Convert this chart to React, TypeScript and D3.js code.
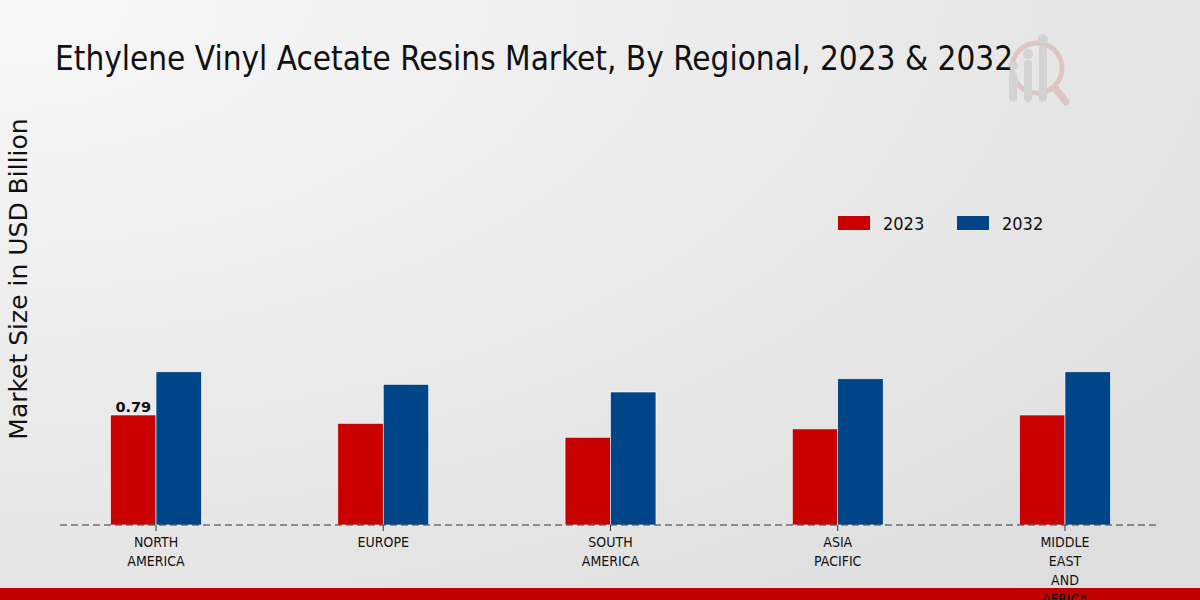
import React, { useEffect, useRef } from 'react';
import * as d3 from 'd3';

const regions = ['NORTH AMERICA', 'EUROPE', 'SOUTH AMERICA', 'ASIA PACIFIC', 'MIDDLE EAST AND AFRICA'];
const regionLines = [['NORTH', 'AMERICA'], ['EUROPE'], ['SOUTH', 'AMERICA'], ['ASIA', 'PACIFIC'], ['MIDDLE', 'EAST', 'AND', 'AFRICA']];
const years = ['2023', '2032'];
const values2023 = [0.79, 0.73, 0.63, 0.69, 0.79];
const values2032 = [1.10, 1.01, 0.955, 1.05, 1.10];
const colors = ['#c80000', '#004587'];

const App: React.FC = () => {
  const svgRef = useRef<SVGSVGElement | null>(null);

  useEffect(() => {
    if (!svgRef.current) return;
    const svg = d3.select(svgRef.current);
    svg.selectAll('*').remove();

    const width = 1200;
    const height = 600;
    const baseY = 525;

    // background gradient
    const defs = svg.append('defs');
    const grad = defs.append('radialGradient')
      .attr('id', 'bg')
      .attr('cx', '0%').attr('cy', '0%').attr('r', '130%');
    grad.append('stop').attr('offset', '0%').attr('stop-color', '#f8f8f8');
    grad.append('stop').attr('offset', '100%').attr('stop-color', '#dedede');
    svg.append('rect').attr('width', width).attr('height', height).attr('fill', 'url(#bg)');

    // bottom band
    svg.append('rect').attr('x', 0).attr('y', 588).attr('width', width).attr('height', 12).attr('fill', '#c00000');

    const x = d3.scaleBand<string>()
      .domain(regions)
      .range([42.4, 1178.6])
      .padding(0);

    const y = d3.scaleLinear()
      .domain([0, 2.7])
      .range([baseY, 149]);

    const barW = x.bandwidth() * 0.2;

    const series = [values2023, values2032];
    series.forEach((vals, si) => {
      svg.append('g')
        .selectAll('rect')
        .data(vals)
        .join('rect')
          .attr('x', (_, i) => (x(regions[i]) as number) + x.bandwidth() / 2 - barW + si * barW)
          .attr('y', d => y(d))
          .attr('width', barW)
          .attr('height', d => baseY - y(d))
          .attr('fill', colors[si])
          .attr('stroke', '#ffffff')
          .attr('stroke-width', 0.6);
    });

    // value label
    svg.append('text')
      .attr('x', (x(regions[0]) as number) + x.bandwidth() / 2 - barW / 2)
      .attr('y', y(values2023[0]) - 3)
      .attr('text-anchor', 'middle')
      .attr('font-family', 'DejaVu Sans')
      .attr('font-weight', 'bold')
      .attr('font-size', '14.5px')
      .attr('fill', '#111')
      .text(values2023[0].toFixed(2));

    // dashed baseline
    svg.append('line')
      .attr('x1', 60).attr('x2', 1160)
      .attr('y1', baseY).attr('y2', baseY)
      .attr('stroke', '#333')
      .attr('stroke-width', 1)
      .attr('stroke-dasharray', '7,4');

    // ticks and labels
    const ticks = svg.append('g');
    regions.forEach((r, i) => {
      const cx = (x(r) as number) + x.bandwidth() / 2;
      ticks.append('line')
        .attr('x1', cx).attr('x2', cx)
        .attr('y1', baseY).attr('y2', baseY + 6)
        .attr('stroke', '#333');
      const t = ticks.append('text')
        .attr('text-anchor', 'middle')
        .attr('font-family', 'DejaVu Sans Condensed, DejaVu Sans')
        .attr('font-stretch', 'condensed')
        .attr('font-size', '14px')
        .attr('fill', '#111');
      regionLines[i].forEach((line, li) => {
        t.append('tspan').attr('x', cx).attr('y', 547 + li * 19).text(line);
      });
    });

    // title
    svg.append('text')
      .attr('x', 55).attr('y', 70)
      .attr('font-family', 'DejaVu Sans Condensed, DejaVu Sans')
      .attr('font-stretch', 'condensed')
      .attr('font-size', '33px')
      .attr('fill', '#111')
      .text('Ethylene Vinyl Acetate Resins Market, By Regional, 2023 & 2032');

    // y axis label
    svg.append('text')
      .attr('transform', 'translate(27,279) rotate(-90)')
      .attr('text-anchor', 'middle')
      .attr('font-family', 'DejaVu Sans')
      .attr('font-size', '25px')
      .attr('fill', '#111')
      .text('Market Size in USD Billion');

    // legend
    const legend = svg.append('g');
    years.forEach((yr, i) => {
      const lx = 838 + i * 119;
      legend.append('rect').attr('x', lx).attr('y', 216).attr('width', 32).attr('height', 14).attr('fill', colors[i]);
      legend.append('text')
        .attr('x', lx + 45).attr('y', 230)
        .attr('font-family', 'DejaVu Sans Condensed, DejaVu Sans')
        .attr('font-stretch', 'condensed')
        .attr('font-size', '18px')
        .attr('fill', '#111')
        .text(yr);
    });

    // watermark logo
    const logo = svg.append('g').attr('opacity', 0.28);
    logo.append('circle').attr('cx', 1037).attr('cy', 68).attr('r', 25)
      .attr('fill', 'none').attr('stroke', '#d07070').attr('stroke-width', 5);
    logo.append('line').attr('x1', 1055).attr('y1', 88).attr('x2', 1066).attr('y2', 102)
      .attr('stroke', '#d07070').attr('stroke-width', 7).attr('stroke-linecap', 'round');
    [[1013, 72], [1028, 60], [1043, 45]].forEach(([bx, by]) => {
      logo.append('rect').attr('x', bx - 4).attr('y', by).attr('width', 8).attr('height', 102 - by)
        .attr('rx', 4).attr('fill', '#a0a0a0');
      logo.append('circle').attr('cx', bx).attr('cy', by - 6).attr('r', 5).attr('fill', '#a0a0a0');
    });
  }, []);

  return <svg ref={svgRef} width={1200} height={600} style={{ display: 'block', position: 'absolute', left: 0, top: 0 }}></svg>;
};

export default App;
